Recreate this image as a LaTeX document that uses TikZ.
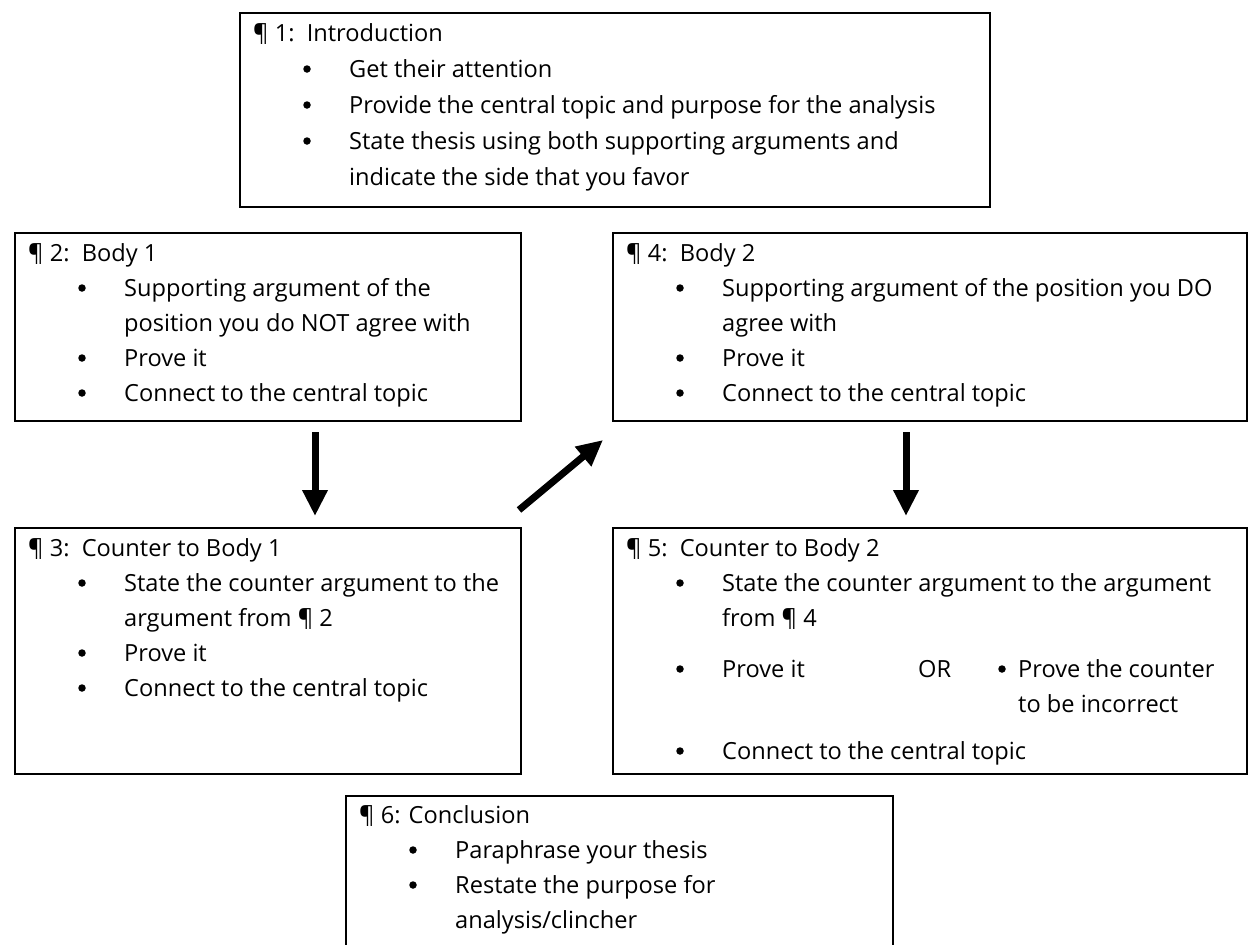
\documentclass[tikz,border=0pt]{standalone}
\usepackage{fontspec}
\setmainfont{Open Sans}
\usetikzlibrary{arrows.meta,calc}
\newcommand\mkhdr[4]{\node[txt] (#1) at ($(#2.north west)+(14,#3)$) {#4};}
\newcommand\mkitem[4]{\node[bul] (#1b) at ($(#2.north west)+(68,#3-8)$) {};\node[txt] (#1) at ($(#2.north west)+(110,#3)$) {#4};}
\newcommand\mkcont[4]{\node[txt] (#1) at ($(#2.north west)+(110,#3)$) {#4};}
\begin{document}
\begin{tikzpicture}[x=1pt,y=-1pt,
  box/.style={draw=black,line width=2pt,anchor=north west,inner sep=0pt},
  txt/.style={anchor=base west,inner sep=0pt,font=\fontsize{23.6}{35}\selectfont},
  bul/.style={circle,fill=black,inner sep=0pt,minimum size=7.5pt},
  bigarrow/.style={line width=7pt,-{Triangle[width=24pt,length=26pt]}}]
\useasboundingbox (0,0) rectangle (1248,945);
\fill[white] (0,0) rectangle (1248,945);
% boxes
\node[box,minimum width=750pt,minimum height=194pt] (b1) at (239,12) {};
\node[box,minimum width=506pt,minimum height=188pt] (b2) at (14,232) {};
\node[box,minimum width=634pt,minimum height=188pt] (b4) at (612,232) {};
\node[box,minimum width=506pt,minimum height=246pt] (b3) at (14,527) {};
\node[box,minimum width=634pt,minimum height=246pt] (b5) at (612,527) {};
\node[box,minimum width=547pt,minimum height=200pt] (b6) at (345,795) {};
% box 1
\mkhdr{t1h}{b1}{29}{¶ 1:\ \ Introduction}
\mkitem{t1a}{b1}{65}{Get their attention}
\mkitem{t1b}{b1}{101}{Provide the central topic and purpose for the analysis}
\mkitem{t1c}{b1}{137}{State thesis using both supporting arguments and}
\mkcont{t1d}{b1}{173}{indicate the side that you favor}
% box 2
\mkhdr{t2h}{b2}{29}{¶ 2:\ \ Body 1}
\mkitem{t2a}{b2}{64}{Supporting argument of the}
\mkcont{t2b}{b2}{99}{position you do NOT agree with}
\mkitem{t2c}{b2}{134}{Prove it}
\mkitem{t2d}{b2}{169}{Connect to the central topic}
% box 4
\mkhdr{t4h}{b4}{29}{¶ 4:\ \ Body 2}
\mkitem{t4a}{b4}{64}{Supporting argument of the position you DO}
\mkcont{t4b}{b4}{99}{agree with}
\mkitem{t4c}{b4}{134}{Prove it}
\mkitem{t4d}{b4}{169}{Connect to the central topic}
% box 3
\mkhdr{t3h}{b3}{29}{¶ 3:\ \ Counter to Body 1}
\mkitem{t3a}{b3}{64}{State the counter argument to the}
\mkcont{t3b}{b3}{99}{argument from ¶ 2}
\mkitem{t3c}{b3}{134}{Prove it}
\mkitem{t3d}{b3}{169}{Connect to the central topic}
% box 5
\mkhdr{t5h}{b5}{29}{¶ 5:\ \ Counter to Body 2}
\mkitem{t5a}{b5}{64}{State the counter argument to the argument}
\mkcont{t5b}{b5}{99}{from ¶ 4}
\mkitem{t5c}{b5}{150}{Prove it}
\node[txt] (t5or) at ($(b5.north west)+(306,150)$) {OR};
\node[bul] (t5eb) at ($(b5.north west)+(390,142)$) {};
\node[txt] (t5e) at ($(b5.north west)+(406,150)$) {Prove the counter};
\node[txt] (t5f) at ($(b5.north west)+(406,185)$) {to be incorrect};
\mkitem{t5d}{b5}{232}{Connect to the central topic}
% box 6
\mkhdr{t6h}{b6}{28}{¶ 6: Conclusion}
\mkitem{t6a}{b6}{63}{Paraphrase your thesis}
\mkitem{t6b}{b6}{98}{Restate the purpose for}
\mkcont{t6c}{b6}{133}{analysis/clincher}
% arrows
\draw[bigarrow] ($(b2.south west)+(301,10)$) -- ($(b3.north west)+(301,-11)$);
\draw[bigarrow] ($(b3.north east)+(-3,-17)$) -- ($(b4.south west)+(-9,18)$);
\draw[bigarrow] ($(b4.south west)+(294,10)$) -- ($(b5.north west)+(294,-11)$);
\end{tikzpicture}
\end{document}
